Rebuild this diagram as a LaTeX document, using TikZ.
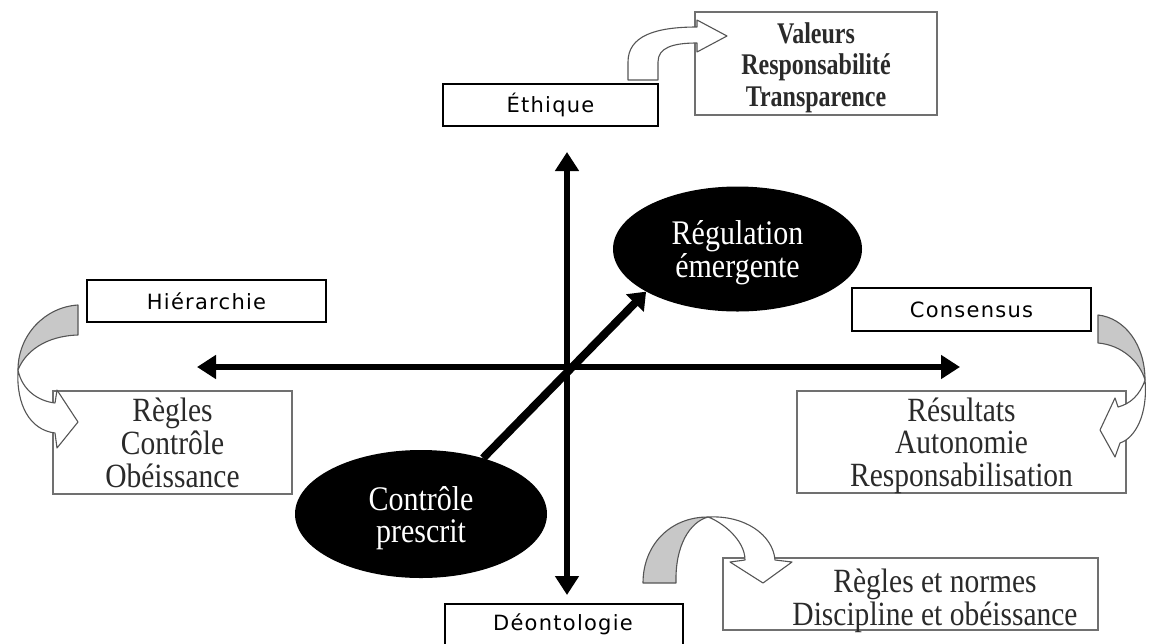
\documentclass[tikz,border=0pt]{standalone}
\usepackage{fontspec}
\usepackage{graphicx}
\setmainfont{Liberation Serif}
\newfontfamily\sansf{DejaVu Sans}[LetterSpace=6]
\usetikzlibrary{arrows.meta,shapes.geometric}
\definecolor{bandgray}{HTML}{C8C8C8}
\definecolor{edgegray}{HTML}{555555}
\definecolor{boxgray}{HTML}{707070}
\definecolor{txt}{HTML}{2A2A2A}
\newcommand\vstack[2]{\raisebox{-5pt}[\height][\depth]{\scalebox{1}[#1]{\begin{tabular}{@{}c@{}}#2\end{tabular}}}}
\begin{document}
\begin{tikzpicture}[x=1pt,y=-1pt,
  lab/.style={draw=black, line width=1.2pt, inner sep=0pt, minimum height=42pt,
    font=\sansf\fontsize{21}{24}\selectfont},
  res/.style={draw=boxgray, line width=1.3pt, inner sep=0pt, align=center, text=txt,
    font=\fontsize{29.5}{27.5}\selectfont},
  plain/.style={inner sep=0pt, align=center, text=txt, font=\fontsize{29.5}{26.5}\selectfont},
  blob/.style={ellipse, fill=black, inner sep=0pt, align=center, text=white,
    font=\fontsize{30}{26.5}\selectfont},
  axis/.style={line width=5.5pt, {Triangle[length=19pt,width=23pt]}-{Triangle[length=19pt,width=23pt]}},
  diag/.style={line width=8pt, -{Triangle[length=16pt,width=24pt]}},
  band/.style={draw=edgegray, line width=1.1pt, line join=round},
]
\useasboundingbox (0,0) rectangle (1158,643);

% boxes
\node[lab, minimum width=215pt] (eth) at (550.5,105) {Éthique};
\node[res, minimum width=242pt, minimum height=103pt,
  font=\bfseries\fontsize{24}{25}\selectfont] (val) at (816,63.5)
  {\vstack{1.25}{Valeurs\\Responsabilité\\Transparence}};
\node[lab, minimum width=239pt] (hie) at (206.5,301) {Hiérarchie};
\node[res, minimum width=239pt, minimum height=103pt] (reg1) at (172.5,442.5)
  {\vstack{1.15}{Règles\\Contrôle\\Obéissance}};
\node[lab, minimum width=239pt, minimum height=43pt] (con) at (971.5,309.5) {Consensus};
\node[res, minimum width=329pt, minimum height=102pt] (resu) at (961.5,442)
  {\vstack{1.15}{Résultats\\Autonomie\\Responsabilisation}};
\node[res, minimum width=375pt, minimum height=72pt] (rnbox) at (910.5,594) {};
\node[plain] (rntext) at (935,597) {\vstack{1.15}{Règles et normes\\Discipline et obéissance}};
\node[inner sep=0pt, font=\sansf\fontsize{21}{24}\selectfont] (deo) at (563,624) {Déontologie};
\draw[line width=1.2pt] (445,645) -- (445,604) -- (683,604) -- (683,645);

% ellipses
\node[blob, minimum width=252pt, minimum height=128pt] (ctrl) at (421,514)
  {\vstack{1.15}{Contrôle\\prescrit}};
\node[blob, minimum width=249pt, minimum height=125pt] (regu) at (737.5,249)
  {\vstack{1.15}{Régulation\\émergente}};

% axes
\coordinate (xl) at (197,367);
\coordinate (xr) at (960,367);
\coordinate (yt) at (567,152);
\coordinate (yb) at (567,595);
\draw[axis] (xl) -- (xr);
\draw[axis] (yt) -- (yb);
\draw[diag] (ctrl.42) -- (regu.205);

% curved arrow: Ethique -> Valeurs
\draw[band, fill=white] (628,80) -- (628,62) .. controls (628,36) and (655,27) .. (697,27)
  -- (697,20) -- (727,36) -- (697,52) -- (697,43)
  .. controls (672,43) and (658,48) .. (658,62) -- (658,80) -- cycle;

% left curved arrow: Hierarchie -> Regles
\draw[band, fill=bandgray] (78,305) .. controls (45,307) and (18,335) .. (18,370)
  .. controls (25,352) and (45,336) .. (78,335) -- cycle;
\draw[band, fill=white] (18,370) .. controls (22,390) and (38,401) .. (55,403)
  -- (57,390) -- (78,422) -- (57,448) -- (55,433)
  .. controls (30,430) and (16,405) .. (18,370) -- cycle;

% right curved arrow: Consensus -> Resultats
\draw[band, fill=bandgray] (1098,315) .. controls (1125,318) and (1145,345) .. (1145,380)
  .. controls (1140,362) and (1122,345) .. (1098,343) -- cycle;
\draw[band, fill=white] (1145,380) .. controls (1140,395) and (1130,404) .. (1118,407)
  -- (1115,398) -- (1100,430) -- (1115,457) -- (1120,443)
  .. controls (1135,438) and (1148,415) .. (1145,380) -- cycle;

% bottom curved arrow: Deontologie -> Regles et normes
\draw[band, fill=bandgray] (643,583) .. controls (643,545) and (670,517) .. (708,517)
  .. controls (690,522) and (675,545) .. (676,583) -- cycle;
\draw[band, fill=white] (708,517) .. controls (722,522) and (745,540) .. (745,560)
  -- (730,562) -- (763,583) -- (792,562) -- (775,560)
  .. controls (773,535) and (745,515) .. (708,517) -- cycle;
\end{tikzpicture}
\end{document}
